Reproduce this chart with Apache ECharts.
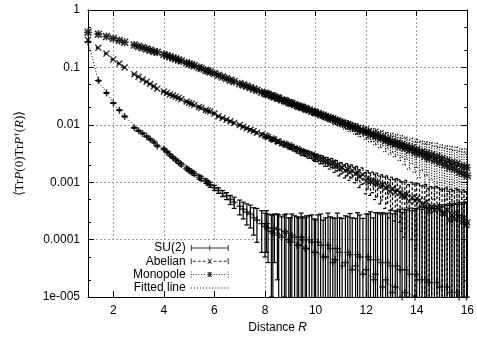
<!DOCTYPE html>
<html>
<head>
<meta charset="utf-8">
<script src="https://cdn.jsdelivr.net/npm/echarts@6/dist/echarts.min.js"></script>
<style>
html, body { margin: 0; padding: 0; background: #fff; }
#chart { width: 477px; height: 339px; }
</style>
</head>
<body>
<div id="chart"></div>
<script>
// distances R shared by all three measured series
var distances = [1, 1.41, 1.73, 2, 2.24, 2.45, 2.83, 3, 3.16, 3.32,
    3.46, 3.61, 3.74, 4, 4.12, 4.24, 4.36, 4.47, 4.58, 4.69,
    4.9, 5, 5.1, 5.2, 5.39, 5.48, 5.66, 5.74, 5.83, 6,
    6.16, 6.32, 6.48, 6.63, 6.78, 7, 7.14, 7.28, 7.42, 7.55,
    7.68, 7.87,
    8, 8.06, 8.12, 8.25, 8.31, 8.37, 8.49, 8.54, 8.66, 8.77, 8.83, 8.94, 9,
    9.06, 9.17, 9.27, 9.33, 9.43, 9.49, 9.59, 9.64, 9.75, 9.85, 9.95, 10,
    10.1, 10.2, 10.3, 10.39, 10.49, 10.58, 10.68, 10.77, 10.86, 10.95,
    11.05, 11.18, 11.27, 11.36, 11.45, 11.58, 11.66, 11.75, 11.87, 12,
    12.08, 12.17, 12.29, 12.37, 12.45, 12.57, 12.65, 12.77, 12.85, 12.96,
    13.04, 13.15, 13.23, 13.34, 13.42, 13.53, 13.6, 13.71, 13.82, 13.93,
    14, 14.11, 14.21, 14.32, 14.39, 14.49, 14.59, 14.7, 14.8, 14.9,
    15, 15.1, 15.2, 15.3, 15.39, 15.49, 15.59, 15.68, 15.78, 15.87, 15.97, 16];

var su2 = [0.28, 0.059, 0.036, 0.024, 0.018, 0.014, 0.0089, 0.0079, 0.0071, 0.0063,
    0.0056, 0.005, 0.0043, 0.0038, 0.0034, 0.003, 0.0027, 0.00245, 0.00224, 0.00204,
    0.00174, 0.00162, 0.00151, 0.00141, 0.00123, 0.00117, 0.00105, 0.00098, 0.00091, 0.0008,
    0.00072, 0.00064, 0.00058, 0.0005, 0.00045, 0.00038, 0.00034, 0.0003, 0.00028, 0.00024,
    0.00022, 0.00019,
    0.00017, 0.00019, 0.00016, 0.00014, 0.00013, 0.00016, 0.00015, 0.00012, 0.00011, 0.00014, 0.00013, 0.0001, 0.00009,
    0.00012, 0.00011, 0.00008, 0.00008, 0.00011, 0.0001, 0.00007, 0.00007, 0.0001, 0.00009, 0.00006, 0.00006,
    0.00009, 0.00008, 0.00005, 0.00005, 0.00008, 0.00007, 0.00004, 0.000045, 0.00007, 0.00006,
    0.000035, 0.00004, 0.00006, 0.000055, 0.00003, 0.000035, 0.000055, 0.00005, 0.000025, 0.00003,
    0.00005, 0.000045, 0.00002, 0.000025, 0.000045, 0.00004, 0.000015, 0.00002, 0.00004, 0.000035,
    0.000012, 0.000015, 0.000035, 0.00003, 0.00001, 0.000012, 0.00003, 0.000025, 0.000008, 0.00001,
    0.000025, 0.00002, 0.000006, 0.000008, 0.00002, 0.000018, 0.000005, 0.000006, 0.000018, 0.000015,
    0.000004, 0.000005, 0.000015, 0.000012, 0.000004, 0.000004, 0.000012, 0.00001, 0.000003, 0.000003, 0.00001, 0.000008];
var su2Err = [0.005, 0.001, 0.0006, 0.0004, 0.0003, 0.0003, 0.0002, 0.0002, 0.0002, 0.0002,
    0.0002, 0.0002, 0.00015, 0.00015, 0.00014, 0.00013, 0.00012, 0.00012, 0.00012, 0.00012,
    0.0001, 0.0001, 0.0001, 0.0001, 0.0001, 0.0001, 0.00009, 0.00009, 0.00009, 0.00008,
    0.00008, 0.00008, 0.00008, 0.00009, 0.0001, 0.00011, 0.00011, 0.00012, 0.00012, 0.00012,
    0.00013, 0.00013,
    0.00012, 0.00013, 0.00012, 0.00013, 0.00014, 0.00012, 0.00013, 0.00015, 0.00014, 0.00013, 0.00015, 0.00014, 0.00015,
    0.00016, 0.00015, 0.00017, 0.00016, 0.00018, 0.00015, 0.00017, 0.00019, 0.00016, 0.00018, 0.00017, 0.00016,
    0.00018, 0.0002, 0.00017, 0.00019, 0.00021, 0.00018, 0.0002, 0.00019, 0.00022, 0.00018,
    0.0002, 0.00022, 0.00019, 0.00023, 0.00021, 0.0002, 0.00024, 0.00022, 0.00021, 0.00025,
    0.00023, 0.00026, 0.00022, 0.00027, 0.00025, 0.00024, 0.00028, 0.00026, 0.00025, 0.00029,
    0.00027, 0.0003, 0.00028, 0.00031, 0.00029, 0.00032, 0.0003, 0.00033, 0.00031, 0.00034,
    0.00032, 0.00035, 0.00033, 0.00036, 0.00034, 0.00037, 0.00035, 0.00038, 0.00036, 0.00039,
    0.00037, 0.0004, 0.00038, 0.00041, 0.00039, 0.00042, 0.0004, 0.00043, 0.00041, 0.00044, 0.00042, 0.00045];

var abelian = [0.30, 0.219, 0.174, 0.138, 0.117, 0.1, 0.076, 0.069, 0.0617, 0.0562,
    0.0513, 0.0468, 0.0427, 0.038, 0.0359, 0.0339, 0.0324, 0.0309, 0.0292, 0.0279,
    0.0254, 0.0243, 0.0232, 0.0221, 0.0204, 0.0197, 0.0182, 0.0176, 0.017, 0.0158,
    0.0141, 0.0132, 0.0123, 0.0115, 0.0108, 0.0099, 0.0093, 0.0087, 0.0082, 0.0078,
    0.0073, 0.0068,
    0.0065, 0.0063, 0.0061, 0.0058, 0.0056, 0.0055, 0.0052, 0.0051, 0.0048, 0.0047, 0.0045, 0.0044, 0.0042,
    0.0041, 0.0039, 0.0038, 0.0036, 0.0035, 0.0033, 0.0033, 0.0032, 0.003, 0.003, 0.0028, 0.0027,
    0.0027, 0.0025, 0.0025, 0.0023, 0.0023, 0.0021, 0.0022, 0.0019, 0.002, 0.0017,
    0.0018, 0.0016, 0.0017, 0.0015, 0.0016, 0.0014, 0.00148, 0.00123, 0.00135, 0.00105,
    0.00118, 0.00102, 0.00108, 0.00093, 0.001, 0.00085, 0.00092, 0.00079, 0.00086, 0.00068,
    0.00078, 0.00066, 0.00072, 0.00065, 0.00058, 0.00056, 0.00062, 0.00046, 0.00055, 0.00047,
    0.00052, 0.00048, 0.00041, 0.00039, 0.00046, 0.00031, 0.00038, 0.00033, 0.00037, 0.00034,
    0.00029, 0.00028, 0.00033, 0.00022, 0.00027, 0.00023, 0.00029, 0.00025, 0.0002, 0.00024, 0.00018, 0.0002];
var abelianErr = [0.003, 0.002, 0.0015, 0.0012, 0.001, 0.001, 0.0008, 0.0007, 0.0006, 0.0006,
    0.0005, 0.0005, 0.0005, 0.0004, 0.0004, 0.0004, 0.0004, 0.0004, 0.0004, 0.0004,
    0.0004, 0.0004, 0.0004, 0.0004, 0.0004, 0.0004, 0.0004, 0.0004, 0.0004, 0.0004,
    0.00035, 0.00035, 0.00035, 0.00035, 0.00035, 0.00035, 0.00035, 0.00035, 0.00035, 0.00035,
    0.00035, 0.00035,
    0.00035, 0.00036, 0.00035, 0.00036, 0.00036, 0.00035, 0.00037, 0.00036, 0.00037, 0.00036, 0.00037, 0.00037, 0.00036,
    0.00037, 0.00038, 0.00037, 0.00038, 0.00037, 0.00038, 0.00039, 0.00038, 0.00038, 0.00039, 0.00038, 0.00039,
    0.00039, 0.0004, 0.00039, 0.0004, 0.00039, 0.0004, 0.0004, 0.00041, 0.0004, 0.00041,
    0.0004, 0.00041, 0.00041, 0.00042, 0.00041, 0.00042, 0.00041, 0.00042, 0.00043, 0.00042,
    0.00042, 0.00043, 0.00042, 0.00043, 0.00044, 0.00043, 0.00043, 0.00044, 0.00043, 0.00044,
    0.00044, 0.00045, 0.00044, 0.00045, 0.00044, 0.00045, 0.00046, 0.00045, 0.00045, 0.00046,
    0.00045, 0.00046, 0.00046, 0.00047, 0.00046, 0.00047, 0.00046, 0.00047, 0.00048, 0.00047,
    0.00047, 0.00048, 0.00047, 0.00048, 0.00049, 0.00048, 0.00048, 0.00049, 0.00048, 0.00049, 0.0005, 0.00049];

var monopole = [0.41, 0.38, 0.345, 0.32, 0.295, 0.275, 0.245, 0.232, 0.221, 0.209,
    0.2, 0.19, 0.184, 0.168, 0.16, 0.153, 0.146, 0.141, 0.135, 0.13,
    0.12, 0.115, 0.111, 0.107, 0.1, 0.096, 0.089, 0.087, 0.083, 0.078,
    0.073, 0.068, 0.064, 0.06, 0.057, 0.052, 0.0495, 0.047, 0.0445, 0.042,
    0.04, 0.037,
    0.0355, 0.0345, 0.034, 0.0322, 0.0318, 0.0305, 0.0292, 0.029, 0.0272, 0.0265, 0.0257, 0.0246, 0.024,
    0.0236, 0.0224, 0.0218, 0.0209, 0.0204, 0.02, 0.0192, 0.0186, 0.0181, 0.0172, 0.0168, 0.0162,
    0.0158, 0.015, 0.0147, 0.014, 0.0136, 0.0129, 0.0128, 0.012, 0.0118, 0.0112,
    0.0109, 0.0102, 0.0101, 0.0095, 0.0094, 0.0087, 0.0086, 0.0079, 0.008, 0.0074,
    0.0075, 0.0068, 0.0069, 0.0063, 0.0065, 0.0058, 0.0061, 0.0053, 0.0056, 0.0049,
    0.0052, 0.0046, 0.0049, 0.0042, 0.0046, 0.0039, 0.0043, 0.0036, 0.004, 0.0033,
    0.0037, 0.0031, 0.0034, 0.0028, 0.0032, 0.0026, 0.003, 0.0024, 0.0028, 0.0022,
    0.0026, 0.002, 0.0024, 0.0018, 0.0022, 0.0017, 0.0021, 0.0015, 0.0019, 0.0014, 0.0018, 0.0013];
var monopoleErr = [0.003, 0.003, 0.0025, 0.0025, 0.002, 0.002, 0.002, 0.002, 0.0018, 0.0018,
    0.0018, 0.0017, 0.0017, 0.0016, 0.0016, 0.0016, 0.0015, 0.0015, 0.0015, 0.0015,
    0.0015, 0.0015, 0.0015, 0.0015, 0.0015, 0.0015, 0.0015, 0.0015, 0.0015, 0.0015,
    0.0015, 0.0015, 0.0015, 0.0015, 0.0015, 0.0015, 0.0015, 0.0015, 0.0015, 0.0015,
    0.0015, 0.0015,
    0.0015, 0.0016, 0.0015, 0.0016, 0.0015, 0.0015, 0.0016, 0.0015, 0.0016, 0.0016, 0.0015, 0.0016, 0.0015,
    0.0016, 0.0016, 0.0017, 0.0016, 0.0016, 0.0017, 0.0016, 0.0017, 0.0016, 0.0017, 0.0017, 0.0016,
    0.0017, 0.0016, 0.0017, 0.0017, 0.0016, 0.0017, 0.0017, 0.0018, 0.0017, 0.0017,
    0.0017, 0.0018, 0.0017, 0.0018, 0.0017, 0.0018, 0.0018, 0.0017, 0.0018, 0.0018,
    0.0018, 0.0017, 0.0018, 0.0018, 0.0019, 0.0018, 0.0018, 0.0019, 0.0018, 0.0018,
    0.0019, 0.0018, 0.0019, 0.0018, 0.0019, 0.0019, 0.0018, 0.0019, 0.0019, 0.0018,
    0.0019, 0.0019, 0.0018, 0.0019, 0.0019, 0.002, 0.0019, 0.0019, 0.002, 0.0019,
    0.0019, 0.002, 0.0019, 0.002, 0.002, 0.0019, 0.002, 0.002, 0.0019, 0.002, 0.002, 0.0019];

// fitted curve
var fitR = [1, 1.1, 1.2, 1.3, 1.4, 1.5, 1.6, 1.8, 2, 2.25, 2.5, 3, 3.5, 4, 4.5, 5, 6, 7, 8, 9, 10, 11, 12, 13, 14, 15, 16];
var fitValues = [0.28, 0.19, 0.132, 0.09, 0.063, 0.05, 0.044, 0.033, 0.024, 0.0175, 0.0135, 0.0082, 0.0053, 0.0038,
    0.0026, 0.0018, 0.0008, 0.00038, 0.00018, 0.0001, 0.00006, 0.00004, 0.000025, 0.000016, 0.00001, 0.0000065, 0.000004];

var xTicks = [2, 4, 6, 8, 10, 12, 14, 16];
var yTickLabels = ['1e-005', '0.0001', '0.001', '0.01', '0.1', '1'];
var yMinorTicks = [2e-5, 5e-5, 2e-4, 5e-4, 2e-3, 5e-3, 2e-2, 5e-2, 0.2, 0.5];

var FONT = 'Liberation Sans';

function rect(x0, y0, x1, y1) {
    return 'M' + x0 + ',' + y0 + 'L' + x1 + ',' + y0 + 'L' + x1 + ',' + y1 + 'L' + x0 + ',' + y1 + 'Z';
}
var plusPart = rect(0, 4, 10, 6) + rect(4, 0, 6, 10);
var crossPart = 'M0,1.4L1.4,0L10,8.6L8.6,10Z M8.6,0L10,1.4L1.4,10L0,8.6Z';
var plusSymbol = 'path://' + plusPart;
var crossSymbol = 'path://' + crossPart;
var starSymbol = 'path://' + plusPart + crossPart;

// legend samples, gnuplot style: |--+--|
function dashes(from, to, on, off) {
    var s = '';
    for (var x = from; x + on <= to + 0.01; x += on + off) s += rect(x, 2.5, x + on, 3.5);
    return s;
}
var caps = rect(0, 0, 1, 6) + rect(37, 0, 38, 6);
var dotCaps = rect(0, 0, 1, 1) + rect(0, 2.5, 1, 3.5) + rect(0, 5, 1, 6) +
    rect(37, 0, 38, 1) + rect(37, 2.5, 38, 3.5) + rect(37, 5, 38, 6);
var smallPlus = rect(16.5, 2.5, 21.5, 3.5) + rect(18.5, 0.5, 19.5, 5.5);
var smallCross = 'M16.5,0.5L17.7,0.5L21.5,5.5L20.3,5.5Z M20.3,0.5L21.5,0.5L17.7,5.5L16.5,5.5Z';
var iconSU2 = 'path://' + caps + rect(0, 2.5, 38, 3.5) + rect(18.5, 0.5, 19.5, 5.5);
var iconAbelian = 'path://' + caps + dashes(2, 15, 3, 2) + dashes(23, 36, 3, 2) + smallCross;
var iconMonopole = 'path://' + dotCaps + dashes(2.5, 15, 1, 1.6) + dashes(23, 35.5, 1, 1.6) + smallPlus + smallCross;
var iconFit = 'path://' + dashes(0, 38, 1, 2);

function errorData(values, errs) {
    return distances.map(function (r, i) {
        var lo = values[i] - errs[i];
        return [r, lo > 0 ? lo : 1e-8, values[i] + errs[i]];
    });
}
function errorBars(dash) {
    return function (params, api) {
        var top = api.coord([api.value(0), api.value(2)]);
        var bot = api.coord([api.value(0), api.value(1)]);
        var w = 2.5;
        var st = { stroke: '#000', lineWidth: 1.2, lineDash: dash, fill: null };
        return {
            type: 'group',
            children: [
                { type: 'line', shape: { x1: top[0], y1: top[1], x2: bot[0], y2: bot[1] }, style: st },
                { type: 'line', shape: { x1: top[0] - w, y1: top[1], x2: top[0] + w, y2: top[1] }, style: st },
                { type: 'line', shape: { x1: bot[0] - w, y1: bot[1], x2: bot[0] + w, y2: bot[1] }, style: st }
            ]
        };
    };
}
function points(values) {
    return distances.map(function (r, i) { return [r, values[i]]; });
}

function tickAxis(pos, length, custom) {
    var vertical = pos === 'left' || pos === 'right';
    return {
        type: vertical ? 'log' : 'value',
        logBase: 10,
        min: vertical ? 1e-5 : 1,
        max: vertical ? 1 : 16,
        position: pos,
        z: 5,
        axisLine: { show: true, onZero: false, lineStyle: { color: '#000', width: 1 } },
        axisTick: { show: true, inside: true, length: length, lineStyle: { color: '#000', width: 1 }, customValues: custom },
        axisLabel: { show: false },
        splitLine: { show: false }
    };
}

var chart = echarts.init(document.getElementById('chart'));
chart.setOption({
    animation: false,
    backgroundColor: '#fff',
    grid: { left: 88, right: 8, top: 10, bottom: 41 },
    legend: {
        orient: 'vertical',
        align: 'right',
        left: 88,
        top: 242,
        padding: [0, 7, 6, 45],
        itemGap: 1.3,
        itemWidth: 38,
        itemHeight: 6,
        backgroundColor: '#fff',
        textStyle: { fontFamily: FONT, fontSize: 12, color: '#000' },
        data: [
            { name: 'SU(2)', icon: iconSU2 },
            { name: 'Abelian', icon: iconAbelian },
            { name: 'Monopole', icon: iconMonopole },
            { name: 'Fitted line', icon: iconFit }
        ]
    },
    xAxis: [
        {
            type: 'value', min: 1, max: 16, position: 'bottom',
            axisLine: { show: false },
            axisTick: { show: false, customValues: xTicks },
            axisLabel: { customValues: xTicks, color: '#000', fontFamily: FONT, fontSize: 12, margin: 8 },
            splitLine: { show: true, lineStyle: { color: '#9a9a9a', width: 1, type: [2, 2] } },
            name: 'Distance {i|R}',
            nameLocation: 'middle',
            nameGap: 24,
            nameTextStyle: {
                fontFamily: FONT, fontSize: 12, color: '#000',
                rich: { i: { fontFamily: FONT, fontSize: 12, fontStyle: 'italic', color: '#000' } }
            }
        },
        tickAxis('bottom', 6, xTicks),
        tickAxis('top', 6, xTicks)
    ],
    yAxis: [
        {
            type: 'log', logBase: 10, min: 1e-5, max: 1, position: 'left',
            axisLine: { show: false },
            axisTick: { show: false },
            axisLabel: {
                color: '#000', fontFamily: FONT, fontSize: 12, margin: 8,
                formatter: function (v) { return yTickLabels[Math.round(Math.log10(v)) + 5]; }
            },
            splitLine: { show: true, lineStyle: { color: '#9a9a9a', width: 1, type: [2, 2] } },
            name: '⟨Tr{i|P}(0)Tr{i|P}{s|†}({i|R})⟩',
            nameLocation: 'middle',
            nameRotate: 90,
            nameGap: 62,
            nameTextStyle: {
                fontFamily: 'Liberation Serif', fontSize: 13, color: '#000',
                rich: {
                    i: { fontFamily: 'Liberation Serif', fontSize: 13, fontStyle: 'italic', color: '#000' },
                    s: { fontFamily: 'Liberation Serif', fontSize: 9, verticalAlign: 'top', color: '#000' }
                }
            }
        },
        tickAxis('left', 6),
        tickAxis('left', 3, yMinorTicks),
        tickAxis('right', 6),
        tickAxis('right', 3, yMinorTicks)
    ],
    series: [
        {
            name: 'SU(2) error', type: 'custom', clip: true, z: 2,
            renderItem: errorBars(null),
            encode: { x: 0, y: [1, 2] },
            data: errorData(su2, su2Err)
        },
        {
            name: 'Abelian error', type: 'custom', clip: true, z: 2,
            renderItem: errorBars([3, 2]),
            encode: { x: 0, y: [1, 2] },
            data: errorData(abelian, abelianErr)
        },
        {
            name: 'Monopole error', type: 'custom', clip: true, z: 2,
            renderItem: errorBars([1, 1.5]),
            encode: { x: 0, y: [1, 2] },
            data: errorData(monopole, monopoleErr)
        },
        {
            name: 'SU(2)', type: 'scatter', symbol: plusSymbol, symbolSize: 7,
            itemStyle: { color: '#000' }, data: points(su2)
        },
        {
            name: 'Abelian', type: 'scatter', symbol: crossSymbol, symbolSize: 7,
            itemStyle: { color: '#000' }, data: points(abelian)
        },
        {
            name: 'Monopole', type: 'scatter', symbol: starSymbol, symbolSize: 8,
            itemStyle: { color: '#000' }, data: points(monopole)
        },
        {
            name: 'Fitted line', type: 'line', showSymbol: false, smooth: 0.3,
            color: '#000', itemStyle: { color: '#000' },
            lineStyle: { color: '#000', width: 1, type: [1, 2] },
            data: fitR.map(function (r, i) { return [r, fitValues[i]]; })
        }
    ]
});
</script>
</body>
</html>
